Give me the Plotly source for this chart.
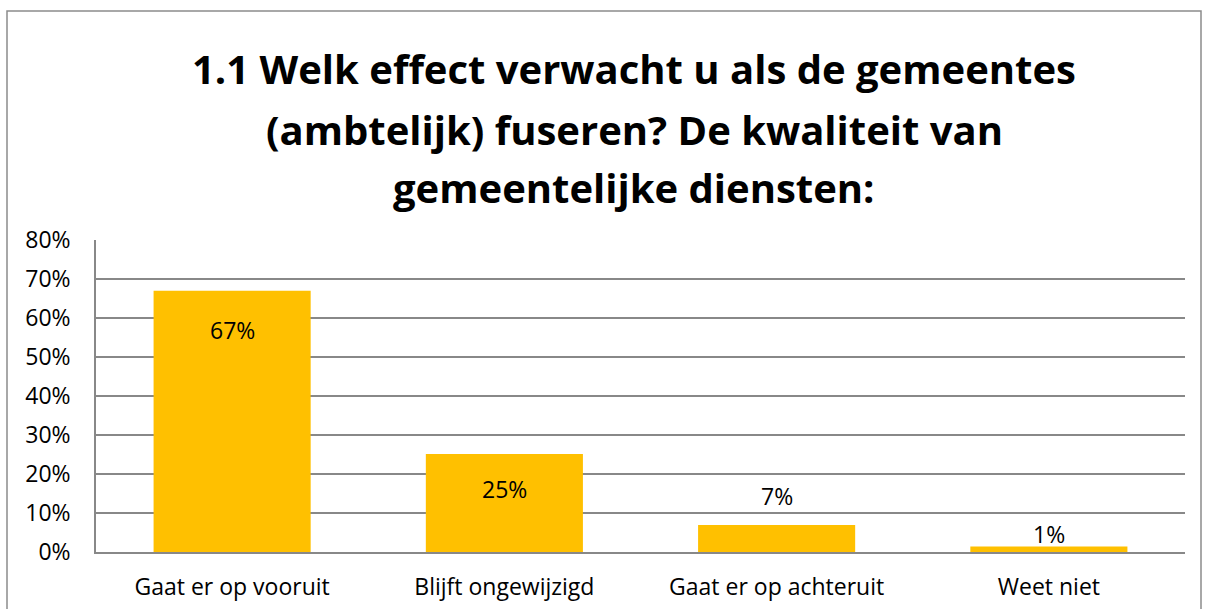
import plotly.graph_objects as go

categories = ["Gaat er op vooruit", "Blijft ongewijzigd", "Gaat er op achteruit", "Weet niet"]
values = [0.67, 0.251, 0.069, 0.014]
labels = ["67%", "25%", "7%", "1%"]
label_shift = [-39, -35, 29, 13]
title_lines = ["1.1 Welk effect verwacht u als de gemeentes",
               "(ambtelijk) fuseren? De kwaliteit van",
               "gemeentelijke diensten:"]
y_ticks = [0, 0.1, 0.2, 0.3, 0.4, 0.5, 0.6, 0.7, 0.8]
y_tick_text = ["0%", "10%", "20%", "30%", "40%", "50%", "60%", "70%", "80%"]

FONT = "Open Sans, Calibri, Carlito, sans-serif"
FS = 23
W, H = 1209, 609
L, R, T, B = 96, 24, 240, 57
pw, ph = W - L - R, H - T - B

fig = go.Figure(go.Bar(x=categories, y=values, marker_color="#FFC000",
                       marker_line_width=0, hoverinfo="skip"))

annotations = []
for c, v, t, s in zip(categories, values, labels, label_shift):
    annotations.append(dict(x=c, y=v, text=t, showarrow=False, yshift=s,
                            font=dict(family=FONT, size=FS, color="#000000")))

title_y_px = [68, 130, 188]
for line, py in zip(title_lines, title_y_px):
    annotations.append(dict(xref="paper", yref="paper", x=(634 - L) / pw, y=(H - B - py) / ph,
                            text="<b>" + line + "</b>", showarrow=False,
                            xanchor="center", yanchor="middle",
                            font=dict(family=FONT, size=40, color="#000000")))

fig.update_layout(
    width=W, height=H,
    margin=dict(l=L, r=R, t=T, b=B, pad=0, autoexpand=False),
    paper_bgcolor="white", plot_bgcolor="white",
    bargap=0.423,
    showlegend=False,
    annotations=annotations,
    font=dict(family=FONT, size=FS, color="#000000"),
    shapes=[dict(type="rect", xref="paper", yref="paper",
                 x0=(7 - L) / pw, x1=(1201 - L) / pw,
                 y0=(H - B - 630) / ph, y1=(H - B - 11) / ph,
                 line=dict(color="#8c8c8c", width=1.5), fillcolor="rgba(0,0,0,0)", layer="below")],
)
fig.update_xaxes(showgrid=False, showline=True, linecolor="#888888", linewidth=1.5,
                 ticks="", tickfont=dict(family=FONT, size=FS), ticklabelstandoff=14,
                 automargin=False)
fig.update_yaxes(range=[0, 0.8], tickvals=y_ticks, ticktext=y_tick_text,
                 showgrid=True, gridcolor="#888888", gridwidth=1.5,
                 showline=True, linecolor="#888888", linewidth=1.5,
                 zeroline=False, ticks="", tickfont=dict(family=FONT, size=FS),
                 ticklabelstandoff=19, automargin=False)

fig.write_html("out.html", config={"displayModeBar": False},
               post_script="document.body.style.margin='0';document.body.style.overflow='hidden';")
